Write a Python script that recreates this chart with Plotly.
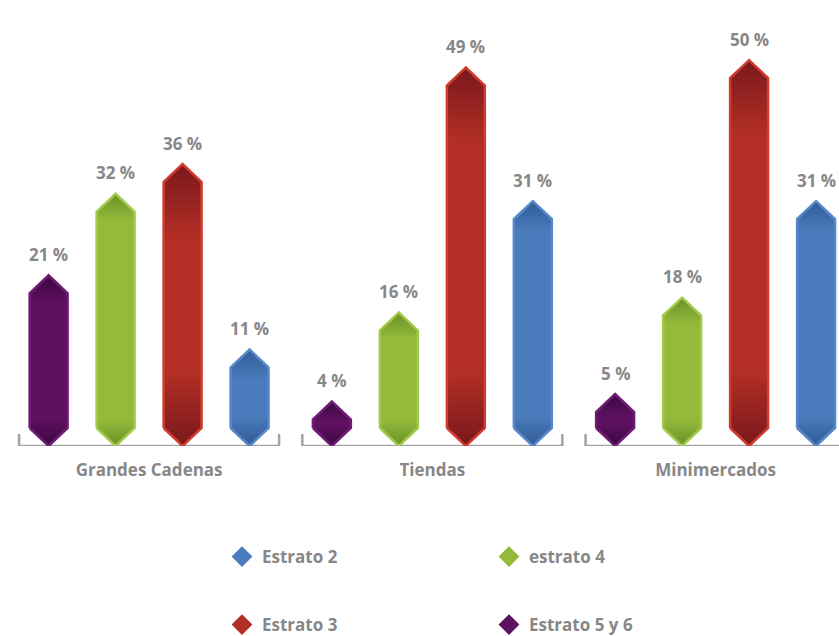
import plotly.graph_objects as go

# ---------------- data ----------------
categories = ["Grandes Cadenas", "Tiendas", "Minimercados"]
series_names = ["Estrato 5 y 6", "estrato 4", "Estrato 3", "Estrato 2"]
estrato_5y6 = [21, 4, 5]
estrato_4 = [32, 16, 18]
estrato_3 = [36, 49, 50]
estrato_2 = [11, 31, 31]
legend_order = ["Estrato 2", "estrato 4", "Estrato 3", "Estrato 5 y 6"]

# ---------------- style ----------------
styles = {
    "Estrato 5 y 6": dict(main="#5e1161", dark="#3a0740", rim="#6e1c73", zone=28),
    "estrato 4": dict(main="#93ba3b", dark="#6a9027", rim="#a2c94a", zone=26),
    "Estrato 3": dict(main="#b32f26", dark="#7a181c", rim="#d13b2d", zone=75),
    "Estrato 2": dict(main="#4a7bbc", dark="#305c97", rim="#5688c9", zone=30),
}
series_values = [estrato_5y6, estrato_4, estrato_3, estrato_2]

FONT = "Open Sans"
GRAY = "#878787"
PX_PER_UNIT = 7.42
BASE = -2.0          # bottom tip of every bar (axis line)
TIP = 18 / PX_PER_UNIT   # height of the pointed ends (data units)
HALF_W = 0.067       # half bar width (x units)
STEP = 0.2365        # spacing between bars inside a group
BRACKET_HW = 0.459
BRACKET_TICK = 12 / PX_PER_UNIT

fig = go.Figure()

for k, (name, vals) in enumerate(zip(series_names, series_values)):
    st = styles[name]
    for g, v in enumerate(vals):
        c = g + (k - 1.5) * STEP
        xs = [c - HALF_W, c, c + HALF_W, c + HALF_W, c, c - HALF_W, c - HALF_W]
        ys = [BASE + TIP, BASE, BASE + TIP, v - TIP, v, v - TIP, BASE + TIP]
        h_px = (v - BASE) * PX_PER_UNIT
        f = min(0.45, st["zone"] / h_px)
        fig.add_trace(go.Scatter(
            x=xs, y=ys, mode="lines", fill="toself",
            line=dict(color=st["rim"], width=2.5),
            fillgradient=dict(type="vertical", colorscale=[
                [0.0, st["dark"]], [f, st["main"]], [1 - f, st["main"]], [1.0, st["dark"]]]),
            showlegend=False, hoverinfo="skip",
        ))
        fig.add_annotation(x=c, y=v, text=f"<b>{v} %</b>", showarrow=False,
                           yanchor="middle", yshift=21,
                           font=dict(family=FONT, size=17, color=GRAY))

# legend-only marker traces
for i, name in enumerate(legend_order):
    fig.add_trace(go.Scatter(
        x=[None], y=[None], mode="markers", name=name,
        marker=dict(symbol="diamond", size=18, color=styles[name]["main"]),
        legend="legend" if i < 2 else "legend2",
    ))

# group brackets
for g in range(len(categories)):
    x0, x1 = g - BRACKET_HW, g + BRACKET_HW
    yt = BASE + BRACKET_TICK
    fig.add_shape(type="path", layer="below",
                  path=f"M {x0},{yt} L {x0},{BASE} L {x1},{BASE} L {x1},{yt}",
                  line=dict(color="#a3a3a3", width=2.5))

leg_common = dict(orientation="h", xanchor="left", yanchor="middle",
                  font=dict(family=FONT, size=17, color=GRAY, weight="bold"),
                  entrywidth=222, entrywidthmode="pixels",
                  bgcolor="rgba(0,0,0,0)", borderwidth=0)

fig.update_layout(
    width=839, height=636,
    margin=dict(l=0, r=0, t=0, b=190, autoexpand=False),
    paper_bgcolor="white", plot_bgcolor="white",
    xaxis=dict(range=[-0.5264, 2.4357], tickvals=list(range(len(categories))),
               ticktext=[f"<b>{c}</b>" for c in categories], showgrid=False,
               zeroline=False, showline=False, ticks="", ticklabelstandoff=12,
               tickfont=dict(family=FONT, size=17, color=GRAY), fixedrange=True),
    yaxis=dict(range=[BASE, BASE + 446 / PX_PER_UNIT], visible=False, fixedrange=True),
    legend=dict(x=222 / 839, y=-111 / 446, **leg_common),
    legend2=dict(x=222 / 839, y=-179 / 446, **leg_common),
    showlegend=True,
)

fig.write_html("out.html")
